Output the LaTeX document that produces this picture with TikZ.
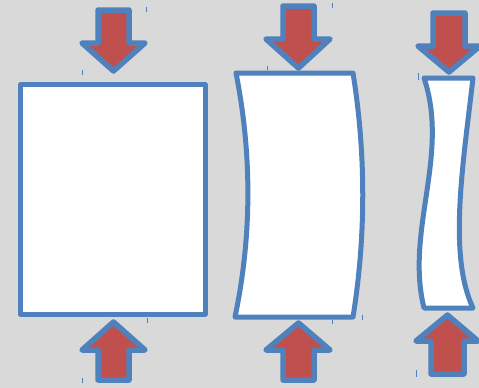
\documentclass[tikz,border=0pt]{standalone}
\definecolor{bgc}{HTML}{D9D9D9}
\definecolor{blu}{HTML}{4F81BD}
\definecolor{rd}{HTML}{C0504D}
\tikzset{
  body/.style={draw=blu, fill=white, line width=5pt, line join=round},
  arr/.style={draw=blu, fill=rd, line width=5.5pt, line join=round},
  tick/.style={draw=blu, line width=1pt}
}
\begin{document}
\begin{tikzpicture}[x=1pt,y=-1pt]
\fill[bgc] (0,0) rectangle (479,388);
\useasboundingbox (0,0) rectangle (479,388);
% shapes
\path[body] (20.5,84.5) rectangle (205,314);
\path[body] (236,73) -- (353,73) .. controls (366,154) and (366,236) .. (353,317) -- (235,317) .. controls (252,236) and (252,154) .. (236,73) -- cycle;
\path[body] (424,78) -- (473,78) .. controls (463,165) and (448,255) .. (473,308) -- (424,308) .. controls (405,231) and (450,155) .. (424,78) -- cycle;
% arrows down
\path[arr] (98,10) -- (129,10) -- (129,43) -- (145,43) -- (113.5,71) -- (82,43) -- (98,43) -- cycle;
\path[arr] (283,6) -- (314,6) -- (314,39) -- (330,39) -- (298.5,68) -- (266,39) -- (283,39) -- cycle;
\path[arr] (433,13) -- (465,13) -- (465,46) -- (480,46) -- (449,72) -- (418,46) -- (433,46) -- cycle;
% arrows up
\path[arr] (113.5,322) -- (145,350) -- (129,350) -- (129,380) -- (98,380) -- (98,350) -- (82,350) -- cycle;
\path[arr] (298.5,323) -- (330,350) -- (314,350) -- (314,380) -- (283,380) -- (283,350) -- (266,350) -- cycle;
\path[arr] (447.5,315) -- (478,341) -- (464,341) -- (464,374) -- (431,374) -- (431,341) -- (416,341) -- cycle;
% small ticks
\draw[tick] (146,7) -- (146,12);
\draw[tick] (82,70) -- (82,75);
\draw[tick] (147,318) -- (147,323);
\draw[tick] (82,378) -- (82,383);
\draw[tick] (332,3) -- (332,8);
\draw[tick] (267,66) -- (267,70);
\draw[tick] (332,320) -- (332,324);
\draw[tick] (362,315) -- (362,320);
\draw[tick] (418,73) -- (418,80);
\draw[tick] (416,370) -- (416,377);
\end{tikzpicture}
\end{document}
